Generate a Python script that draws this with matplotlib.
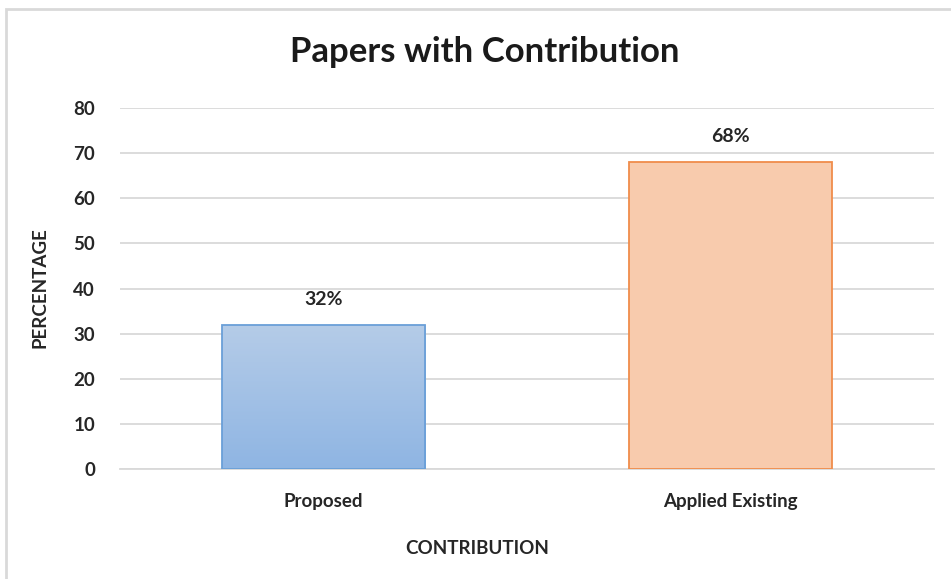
import matplotlib.pyplot as plt
import matplotlib.patches as mp
import numpy as np

categories = ['Proposed', 'Applied Existing']
values = [32, 68]
yticks = [0, 10, 20, 30, 40, 50, 60, 70, 80]

plt.rcParams['font.family'] = ['Lato', 'DejaVu Sans']

fig = plt.figure(figsize=(9.51, 5.79), dpi=100)
ax = fig.add_axes([120 / 951, 1 - 469 / 579, 814 / 951, 361 / 579])

x = np.arange(len(categories))
bars = ax.bar(x, values, width=0.5, zorder=3)

# blue bar: vertical gradient, orange bar: flat fill
fills = [None, '#f8cbad']
edges = ['#6a9fd8', '#f08c4b']
for b, fc, ec in zip(bars, fills, edges):
    b.set_edgecolor(ec)
    b.set_linewidth(1.3)
    if fc is None:
        b.set_facecolor('none')
        x0, y0 = b.get_x(), b.get_y()
        w, h = b.get_width(), b.get_height()
        grad = np.linspace(0, 1, 256).reshape(-1, 1)
        top = np.array([0.71, 0.80, 0.91])
        bot = np.array([0.56, 0.71, 0.89])
        img = top + (bot - top) * grad[:, :, None] * np.ones((1, 2, 1))
        im = ax.imshow(img, extent=[x0, x0 + w, y0, y0 + h], origin='upper',
                       aspect='auto', zorder=2.9)
        im.set_clip_path(b)
    else:
        b.set_facecolor(fc)

for xi, v in zip(x, values):
    ax.text(xi, v + 5.6, f'{v}%', ha='center', va='center',
            fontsize=14, fontweight='bold', color='#262626')

ax.set_xlim(-0.5, 1.5)
ax.set_ylim(0, 80)
ax.set_yticks(yticks)
ax.set_xticks(x)
ax.set_xticklabels(categories)
ax.tick_params(axis='both', length=0, labelsize=13.5, colors='#262626')
ax.tick_params(axis='y', pad=18)
ax.tick_params(axis='x', pad=17)
for lab in ax.get_xticklabels() + ax.get_yticklabels():
    lab.set_fontweight('bold')

ax.grid(axis='y', color='#d9d9d9', linewidth=1.3, zorder=0)
for s in ['top', 'right', 'left']:
    ax.spines[s].set_visible(False)
ax.spines['bottom'].set_color('#d9d9d9')
ax.spines['bottom'].set_linewidth(1.3)

fig.text(477 / 951, 1 - 548 / 579, 'CONTRIBUTION', ha='center', va='center',
         fontsize=13.5, fontweight='bold', color='#262626')
fig.text(40 / 951, 1 - 288 / 579, 'PERCENTAGE', ha='center', va='center',
         rotation=90, fontsize=13.5, fontweight='bold', color='#262626')
fig.text(485 / 951, 1 - 52 / 579, 'Papers with Contribution', ha='center',
         va='center', fontsize=25, fontweight='bold', color='#1a1a1a')

# chart area outline
fig.patches.append(mp.Rectangle((6 / 951, -0.05), 1.1, 1 - 9 / 579 + 0.05,
                                transform=fig.transFigure, fill=False,
                                edgecolor='#d9d9d9', linewidth=2))

fig.savefig('out.png', dpi=100)
